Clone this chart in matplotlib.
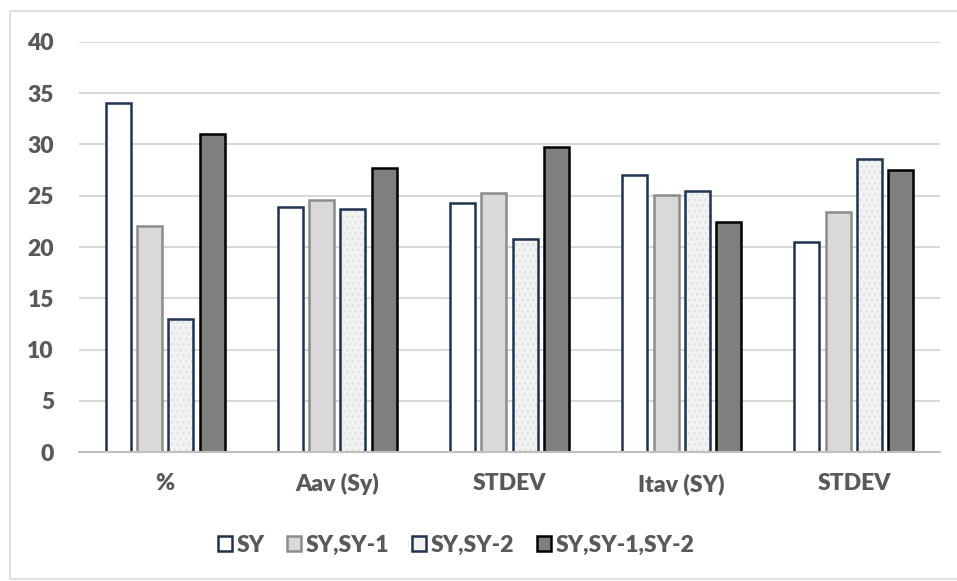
import matplotlib.pyplot as plt
import matplotlib.patches as mpatches
import numpy as np

# Scores per measure for each sliding-year window
categories = ['%', 'Aav (Sy)', 'STDEV', 'Itav (SY)', 'STDEV']
series_names = ['SY', 'SY,SY-1', 'SY,SY-2', 'SY,SY-1,SY-2']
sy = [34.0, 23.9, 24.3, 27.0, 20.5]
sy_1 = [22.0, 24.6, 25.25, 25.05, 23.4]
sy_2 = [13.0, 23.7, 20.75, 25.5, 28.55]
sy_1_2 = [31.0, 27.65, 29.7, 22.4, 27.5]

values = [sy, sy_1, sy_2, sy_1_2]
fills = ['white', '#D9D9D9', '#F2F2F2', '#7F7F7F']
edges = ['#1F3350', '#8C8C8C', '#1F3350', '#000000']

text_col = '#595959'
grid_col = '#D9D9D9'
plt.rcParams['font.family'] = ['Lato', 'DejaVu Sans']
plt.rcParams['font.weight'] = 'heavy'

fig = plt.figure(figsize=(9.57, 5.81), dpi=100)
W, H = 957, 581
ax = fig.add_axes([79 / W, 1 - 452.3 / H, (940 - 79) / W, (452.3 - 41.7) / H])

# chart area frame
fig.patches.append(mpatches.Rectangle((10 / W, 2 / H), 1.2, 1 - 13 / H,
                                      transform=fig.transFigure, fill=False,
                                      edgecolor=grid_col, lw=1.2))

x = np.arange(len(categories))
pitch = 0.182
width = 0.145
handles = []
for i, (vals, fc, ec, name) in enumerate(zip(values, fills, edges, series_names)):
    pos = x + (i - 1.5) * pitch
    if name == 'SY,SY-2':
        # speckled fill drawn underneath, outline on top
        ax.bar(pos, vals, width, color=fc, edgecolor='#E0E0E0', hatch='...',
               linewidth=0, zorder=3)
        ax.bar(pos, vals, width, fill=False, edgecolor=ec, linewidth=1.8, zorder=4)
    else:
        ax.bar(pos, vals, width, color=fc, edgecolor=ec, linewidth=1.8, zorder=3)
    handles.append(mpatches.Patch(facecolor=fc, edgecolor=ec, linewidth=1.8, label=name))

ax.set_xlim(-0.5, len(categories) - 0.5)
ax.set_ylim(0, 40)
ax.set_yticks(range(0, 41, 5))
ax.set_xticks(x)
ax.set_xticklabels(categories)
ax.yaxis.grid(True, color=grid_col, lw=1.5, zorder=0)
ax.set_axisbelow(True)
for s in ['top', 'right', 'left']:
    ax.spines[s].set_visible(False)
ax.spines['bottom'].set_color('#BFBFBF')
ax.spines['bottom'].set_linewidth(1.5)
ax.spines['bottom'].set_zorder(5)
ax.tick_params(axis='both', length=0, labelsize=16.5, labelcolor=text_col)
ax.tick_params(axis='x', pad=15)
ax.tick_params(axis='y', pad=18)

fig.legend(handles=handles, loc='center', bbox_to_anchor=(456 / W, 1 - 545 / H),
           ncol=4, frameon=False, fontsize=16.5, labelcolor=text_col,
           handlelength=0.6, handleheight=0.6, handletextpad=0.2,
           columnspacing=1.0)

plt.savefig('out.png', dpi=100)
